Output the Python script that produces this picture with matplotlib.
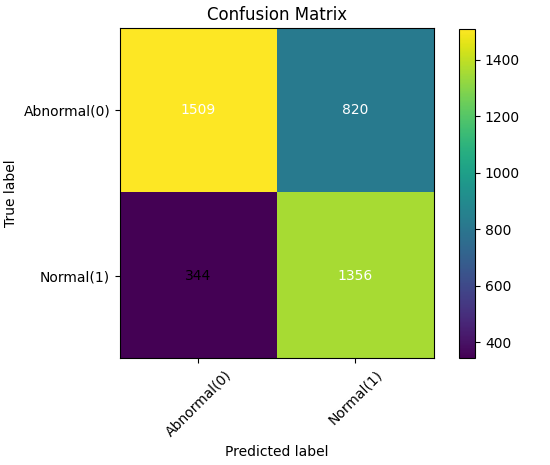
import matplotlib
matplotlib.use("Agg")
import matplotlib.pyplot as plt
import numpy as np

# class names and confusion counts
classes = ['Abnormal(0)', 'Normal(1)']
row_abnormal = [1509, 820]
row_normal = [344, 1356]
cm = np.array([row_abnormal, row_normal])

fig = plt.figure(figsize=(5.5, 4.65), dpi=100)
ax = fig.add_axes([0.218, 0.230, 0.571, 0.710])
im = ax.imshow(cm, interpolation='nearest', cmap='viridis', aspect='auto')
ax.set_title('Confusion Matrix')
cax = fig.add_axes([0.835, 0.230, 0.029, 0.708])
fig.colorbar(im, cax=cax)

ticks = np.arange(len(classes))
ax.set_xticks(ticks)
ax.set_xticklabels(classes, rotation=45)
ax.set_yticks(ticks)
ax.set_yticklabels(classes)

#couleur du texte selon le seuil
thresh = cm.max() / 2.
for i in range(cm.shape[0]):
    for j in range(cm.shape[1]):
        ax.text(j, i, format(cm[i, j], 'd'),
                ha="center", va="center",
                color="white" if cm[i, j] > thresh else "black")

ax.set_ylabel('True label')
ax.set_xlabel('Predicted label')
fig.savefig('out.png', dpi=100)
